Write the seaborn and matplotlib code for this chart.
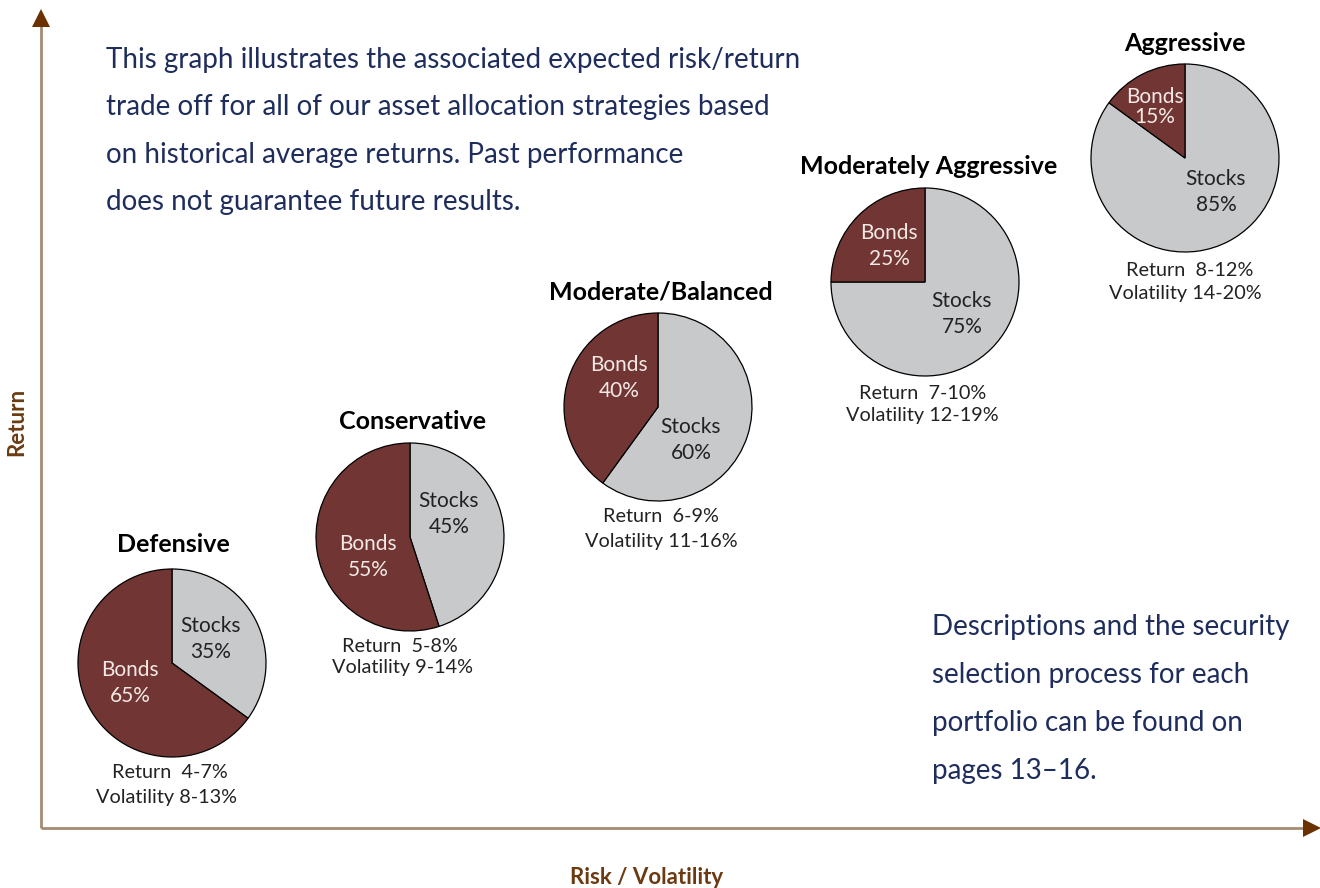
import numpy as np
import seaborn as sns
import matplotlib.pyplot as plt

# data
names = ["Defensive", "Conservative", "Moderate/Balanced", "Moderately Aggressive", "Aggressive"]
stocks = [35, 45, 60, 75, 85]
bonds = [65, 55, 40, 25, 15]
returns = ["4-7%", "5-8%", "6-9%", "7-10%", "8-12%"]
volatility = ["8-13%", "9-14%", "11-16%", "12-19%", "14-20%"]

intro = ("This graph illustrates the associated expected risk/return\n"
         "trade off for all of our asset allocation strategies based\n"
         "on historical average returns. Past performance\n"
         "does not guarantee future results.")
note = ("Descriptions and the security\n"
        "selection process for each\n"
        "portfolio can be found on\n"
        "pages 13\u201316.")

# layout (pixel coords, y measured from top)
W, H = 1320, 888
cx = [172, 410, 658, 925, 1185]
cy = [663, 537, 407, 282, 158]
radius = 94
title_xy = [(173, 545), (413, 422), (661, 292), (929, 167), (1185, 44)]
stock_off = [(39, -24), (39, -23), (33, 33), (37, 32), (31, 34)]
bond_off = [(-42, 20), (-42, 20), (-39, -29), (-36, -36), (-30, -51)]
bond_ls = [1.4, 1.4, 1.4, 1.4, 0.97]
ret_xy = [(170, 773), (400, 646), (661, 517), (923, 394), (1190, 270)]
vol_xy = [(166, 797), (403, 668), (661, 541), (922, 416), (1185, 294)]

bond_col = "#713634"
stock_col = "#c8c9cb"
navy = "#1e2d5c"
brown = "#6b3a10"

sns.set_theme(style="white")
plt.rcParams['font.family'] = ['Lato', 'DejaVu Sans']

fig = plt.figure(figsize=(W / 100, H / 100), dpi=100)
ax = fig.add_axes([0, 0, 1, 1])

def Y(y):
    return H - y

for i, name in enumerate(names):
    ax.pie([stocks[i], bonds[i]], colors=[stock_col, bond_col], startangle=90,
           counterclock=False, center=(cx[i], Y(cy[i])), radius=radius,
           wedgeprops=dict(edgecolor="black", linewidth=0.9))
    tx, ty = title_xy[i]
    ax.text(tx, Y(ty), name, ha="center", va="center", fontsize=18,
            fontweight="bold", color="black")
    sx, sy = stock_off[i]
    ax.text(cx[i] + sx, Y(cy[i] + sy), f"Stocks\n{stocks[i]}%", ha="center",
            va="center", fontsize=15, color="#222222", linespacing=1.4)
    bx, by = bond_off[i]
    ax.text(cx[i] + bx, Y(cy[i] + by), f"Bonds\n{bonds[i]}%", ha="center",
            va="center", fontsize=15, color="#f3e9e6", linespacing=bond_ls[i])
    rx, ry = ret_xy[i]
    ax.text(rx, Y(ry), f"Return  {returns[i]}", ha="center", va="center",
            fontsize=14.3, color="#222222")
    vx, vy = vol_xy[i]
    ax.text(vx, Y(vy), f"Volatility {volatility[i]}", ha="center", va="center",
            fontsize=14.3, color="#222222")

# axes arrows
ax.plot([41, 41], [Y(828), Y(20)], color="#a58b74", lw=2, solid_capstyle="butt")
ax.plot([41, 1308], [Y(828), Y(828)], color="#a58b74", lw=2, solid_capstyle="butt")
ax.plot(41, Y(18), marker="^", ms=13, color="#6b3100", mew=0)
ax.plot(1312, Y(828), marker=">", ms=13, color="#6b3100", mew=0)

ax.text(647, Y(877), "Risk / Volatility", ha="center", va="center",
        fontsize=16, fontweight="bold", color=brown)
ax.text(17, Y(422), "Return", ha="center", va="center", rotation=90,
        fontsize=16, fontweight="bold", color=brown)

ax.text(106, Y(131), intro, ha="left", va="center", fontsize=20,
        color=navy, linespacing=2.03)
ax.text(932, Y(699), note, ha="left", va="center", fontsize=20,
        color=navy, linespacing=2.05)

ax.set_xlim(0, W)
ax.set_ylim(0, H)
ax.set_aspect("equal")
ax.axis("off")

fig.savefig("out.png", dpi=100, facecolor="white")
